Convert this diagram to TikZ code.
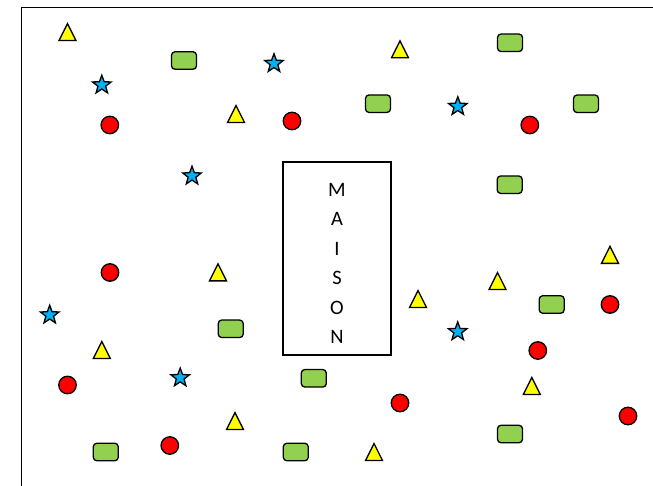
\documentclass[tikz,border=0pt]{standalone}
\usepackage{fontspec}
\setmainfont{Carlito}
\usetikzlibrary{shapes.geometric}
\definecolor{jaune}{RGB}{255,255,0}
\definecolor{vert}{RGB}{146,208,80}
\definecolor{bleu}{RGB}{0,176,240}
\definecolor{rouge}{RGB}{255,0,0}
\tikzset{
  forme/.style={draw=black,line width=1.3pt,inner sep=0pt,outer sep=0pt},
  tri/.style={forme,fill=jaune,isosceles triangle,isosceles triangle stretches=true,
    shape border rotate=90,minimum width=17pt,minimum height=17pt,yshift=-3.3pt},
  bloc/.style={forme,fill=vert,rectangle,rounded corners=3.5pt,
    minimum width=25pt,minimum height=17.5pt},
  rond/.style={forme,fill=rouge,circle,minimum size=17.5pt},
  etoile/.style={forme,fill=bleu,star,star points=5,star point ratio=2.4,
    minimum size=19.5pt},
  maison/.style={draw=black,line width=1.3pt,inner sep=0pt,
    minimum width=108pt,minimum height=193pt}
}

\begin{document}
\begin{tikzpicture}[x=1pt,y=-1pt]
  \useasboundingbox (0,0) rectangle (653,486);
  \draw[line width=1pt] (21,486) |- (653,8);
  \node[maison] (maison) at (337,258.5) {};
  \node[font=\fontsize{20.5}{29.4}\selectfont,align=center,inner sep=0pt]
    (mot) at ([yshift=-5pt]maison.center) {M\\A\\I\\S\\O\\N};
  \node[tri] (t1) at (67.5,32) {};
  \node[tri] (t2) at (400,49.3) {};
  \node[tri] (t3) at (236,114) {};
  \node[tri] (t4) at (218,272.3) {};
  \node[tri] (t5) at (610,254.8) {};
  \node[tri] (t6) at (497.5,281) {};
  \node[tri] (t7) at (418,299) {};
  \node[tri] (t8) at (101.8,350) {};
  \node[tri] (t9) at (531.8,386) {};
  \node[tri] (t10) at (235,421) {};
  \node[tri] (t11) at (374,452) {};
  \node[bloc] (b1) at (184,60.5) {};
  \node[bloc] (b2) at (510,42.8) {};
  \node[bloc] (b3) at (378,103.7) {};
  \node[bloc] (b4) at (586,103.8) {};
  \node[bloc] (b5) at (509.7,184.7) {};
  \node[bloc] (b6) at (551.7,304.5) {};
  \node[bloc] (b7) at (230.7,328.8) {};
  \node[bloc] (b8) at (313.8,378.3) {};
  \node[bloc] (b9) at (510,434) {};
  \node[bloc] (b10) at (105.8,452) {};
  \node[bloc] (b11) at (295.8,452) {};
  \node[etoile] (e1) at (101.8,85) {};
  \node[etoile] (e2) at (274,63.5) {};
  \node[etoile] (e3) at (457.8,106.5) {};
  \node[etoile] (e4) at (192,176) {};
  \node[etoile] (e5) at (49.7,315) {};
  \node[etoile] (e6) at (457.7,331.7) {};
  \node[etoile] (e7) at (180.2,377.8) {};
  \node[rond] (r1) at (109.8,125) {};
  \node[rond] (r2) at (292,121) {};
  \node[rond] (r3) at (529.8,125) {};
  \node[rond] (r4) at (110,272.5) {};
  \node[rond] (r5) at (610,304.5) {};
  \node[rond] (r6) at (537.8,350.5) {};
  \node[rond] (r7) at (67.5,385) {};
  \node[rond] (r8) at (400,403) {};
  \node[rond] (r9) at (628,416) {};
  \node[rond] (r10) at (169.8,445.5) {};
\end{tikzpicture}
\end{document}
